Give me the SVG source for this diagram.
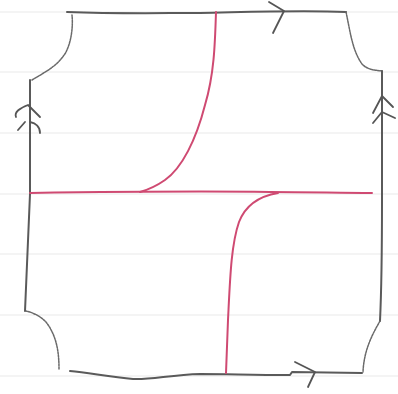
<svg xmlns="http://www.w3.org/2000/svg" width="398" height="394" viewBox="0 0 398 394">
<style>
.rule{stroke:#f1f1f1;stroke-width:1.5;fill:none}
.edge{stroke:#5a5a5a;stroke-width:2;fill:none;stroke-linecap:round;stroke-linejoin:round}
.corner{stroke:#6a6a6a;stroke-width:1.5;fill:none;stroke-dasharray:2 1;stroke-linecap:round}
.arrow{stroke:#555;stroke-width:1.8;fill:none;stroke-linecap:round;stroke-linejoin:round}
.red{stroke:#cf4a72;stroke-width:2;fill:none;stroke-linecap:round;stroke-linejoin:round}
</style>
<rect width="398" height="394" fill="#ffffff"/>
<g id="ruling">
<line class="rule" x1="0" y1="12" x2="398" y2="12"/>
<line class="rule" x1="0" y1="72" x2="398" y2="72"/>
<line class="rule" x1="0" y1="133" x2="398" y2="133"/>
<line class="rule" x1="0" y1="194" x2="398" y2="194"/>
<line class="rule" x1="0" y1="254" x2="398" y2="254"/>
<line class="rule" x1="0" y1="315" x2="398" y2="315"/>
<line class="rule" x1="0" y1="376" x2="398" y2="376"/>
</g>
<g id="boundary">
<path class="edge" d="M67,12 C120,14 160,13 200,13 C250,12 300,10 346,12"/>
<path class="corner" d="M346,12 C350,30 352,50 362,64 C368,70 374,70 382,71"/>
<path class="edge" d="M382,71 L382,200 C382,260 381,300 380,321"/>
<path class="corner" d="M380,321 C372,335 364,350 363,372"/>
<path class="edge" d="M362,373 L292,372 L290,375 C250,375 230,374 200,374 C170,375 150,380 133,379 C110,377 90,373 70,371"/>
<path class="corner" d="M59,369 C59,350 56,335 46,322 C40,316 34,313 26,311"/>
<path class="edge" d="M25,311 C26,280 28,240 30,194 L30,80"/>
<path class="corner" d="M32,80 C45,72 58,66 66,52 C72,40 73,25 72,15"/>
</g>
<g id="arrows">
<path class="arrow" d="M269,2 L284,11 L273,33"/>
<path class="arrow" d="M373,113 L382,96 L393,107"/>
<path class="arrow" d="M373,123 L382,112 L395,118"/>
<path class="arrow" d="M16,117 C14,112 20,108 28,105 L40,117"/>
<path class="arrow" d="M30,122 C36,123 40,127 40,133"/>
<path class="arrow" d="M18,130 L25,122"/>
<path class="arrow" d="M295,362 L315,372 L308,387"/>
</g>
<g id="curves">
<path class="red" d="M30,193 C100,192 200,191 270,192 C310,192 340,193 372,193"/>
<path class="red" d="M216,12 C215,45 214,75 205,105 C196,140 182,168 165,180 C155,187 147,190 140,192"/>
<path class="red" d="M278,193 C260,196 246,204 239,222 C231,245 230,280 228,320 L226,373"/>
</g>
</svg>
